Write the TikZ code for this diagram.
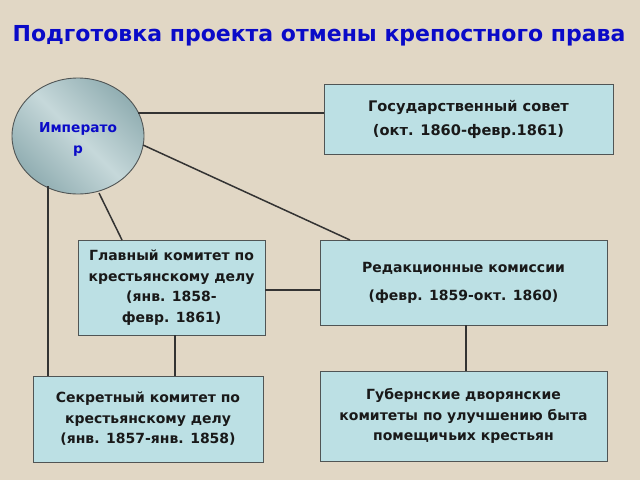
\documentclass[tikz,border=0pt]{standalone}
\usepackage{fontspec}
\setmainfont{DejaVu Sans}
\usetikzlibrary{shapes.geometric}
\definecolor{bgc}{RGB}{225,215,197}
\definecolor{boxc}{RGB}{188,224,228}
\definecolor{edgec}{RGB}{80,85,85}
\definecolor{titlec}{RGB}{10,10,200}
\definecolor{elldark}{RGB}{145,174,178}
\definecolor{elllight}{RGB}{198,216,218}
\tikzset{
  box/.style={draw=edgec, line width=0.9pt, fill=boxc, align=center, inner sep=0pt,
    font=\fontsize{14}{20.5}\selectfont\bfseries, text=black!90},
  link/.style={line width=1.5pt, draw=black!80},
}
\begin{document}
\begin{tikzpicture}[x=1pt,y=-1pt]
\useasboundingbox (0,0) rectangle (640,480);
\fill[bgc] (0,0) rectangle (640,480);
\node[font=\fontsize{22}{26}\selectfont\bfseries, text=titlec] (title) at (319,36) {Подготовка проекта отмены крепостного права};
% Emperor ellipse
\node[ellipse, draw=edgec, line width=0.9pt, minimum width=132pt, minimum height=116pt,
  left color=elldark, right color=elldark, middle color=elllight, shading angle=-45,
  inner sep=0pt] (emp) at (78,136) {};
\node[font=\fontsize{13.7}{21}\selectfont\bfseries, text=titlec, align=center] (emptext) at (78,139) {Императо\\р};
% boxes
\node[box, minimum width=289pt, minimum height=70pt, font=\fontsize{14.6}{24}\selectfont\bfseries] (gos) at (468.5,119) {Государственный совет\\(окт. 1860-февр.1861)};
\node[box, minimum width=187pt, minimum height=95pt] (glav) at (171.5,287.5) {Главный комитет по\\крестьянскому делу\\(янв. 1858-\\февр. 1861)};
\node[box, minimum width=287pt, minimum height=85pt, font=\fontsize{14}{28}\selectfont\bfseries] (red) at (463.5,282.5) {Редакционные комиссии\\(февр. 1859-окт. 1860)};
\node[box, minimum width=230pt, minimum height=86pt] (sek) at (148,419) {Секретный комитет по\\крестьянскому делу\\(янв. 1857-янв. 1858)};
\node[box, minimum width=287pt, minimum height=90pt] (gub) at (463.5,416) {Губернские дворянские\\комитеты по улучшению быта\\помещичьих крестьян};
% links
\coordinate (e1) at (138,113);
\coordinate (e2) at (143,145);
\coordinate (e3) at (99,193);
\coordinate (e4) at (48,186);
\coordinate (m) at (0,290);
\draw[link] (e1) -- (e1 -| gos.west);
\draw[link] (e2) -- (350,240);
\draw[link] (e3) -- (122,240);
\draw[link] (e4) -- (e4 |- sek.north);
\draw[link] (glav.east |- m) -- (red.west |- m);
\draw[link] (175,0 |- glav.south) -- (175,0 |- sek.north);
\draw[link] (466,0 |- red.south) -- (466,0 |- gub.north);
\end{tikzpicture}
\end{document}
